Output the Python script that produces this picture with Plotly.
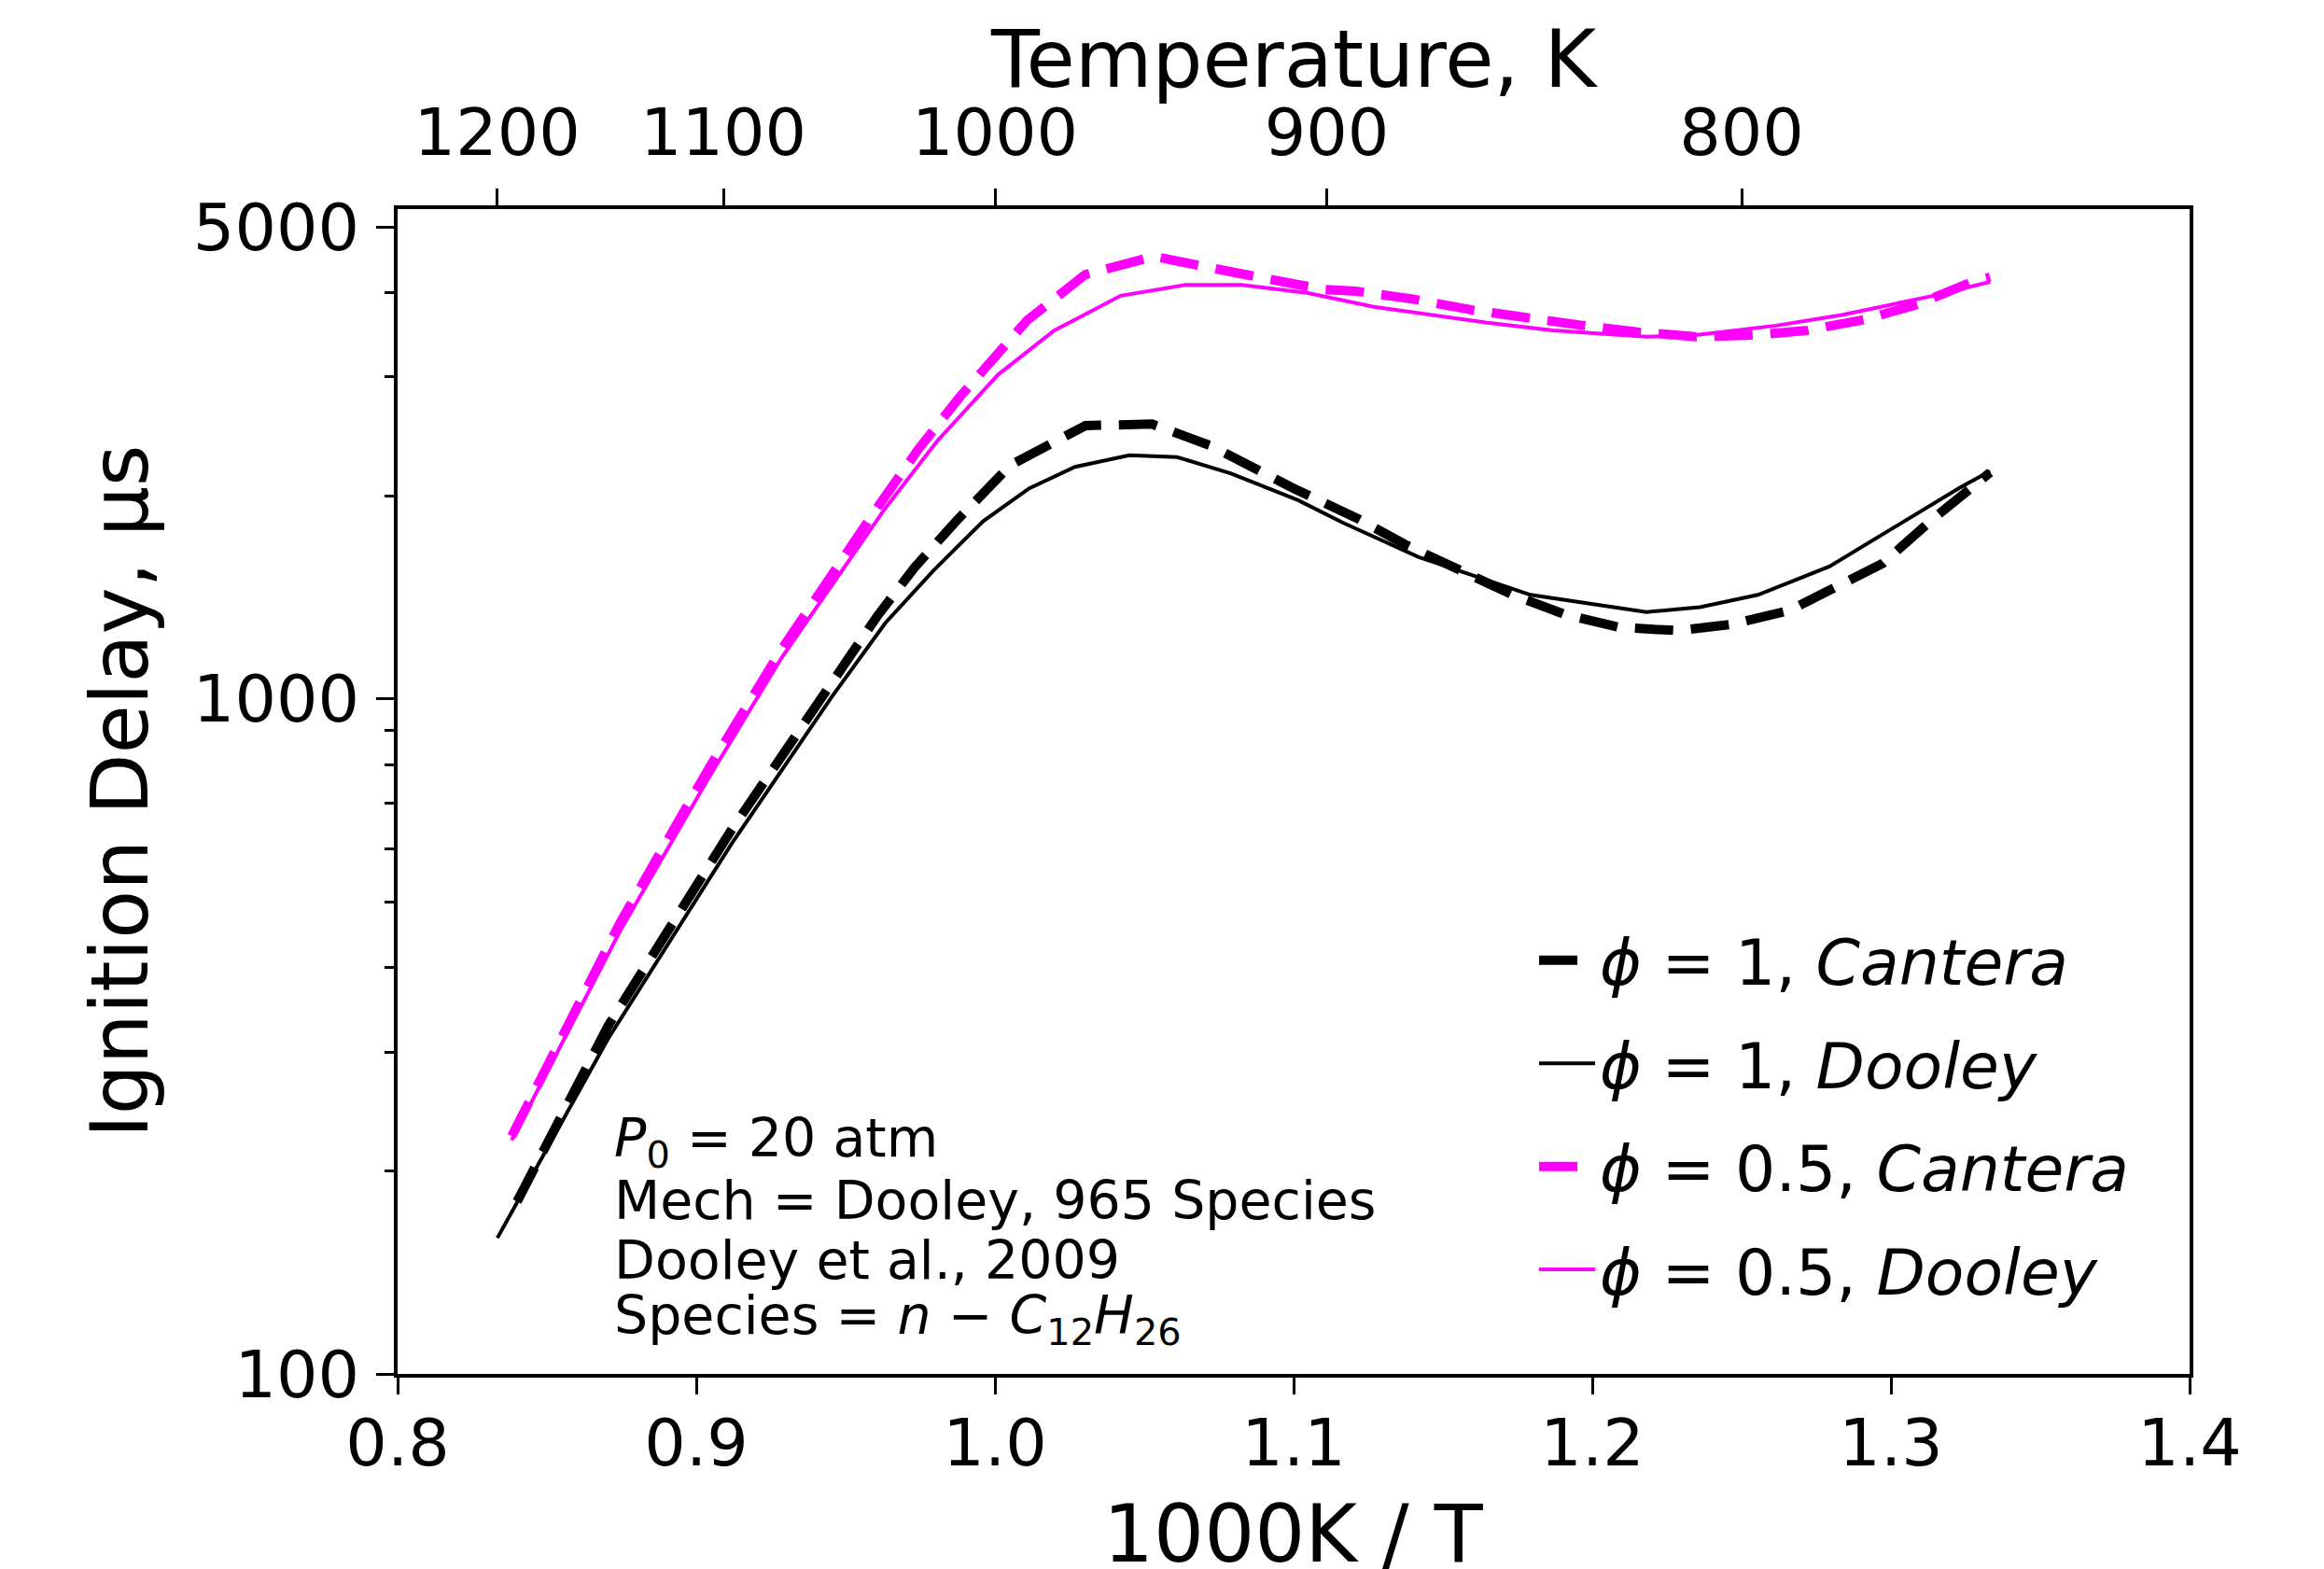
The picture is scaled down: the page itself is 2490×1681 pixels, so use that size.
import plotly.graph_objects as go

# ---- data (x = 1000K/T, y = ignition delay in microseconds) ----
phi1_cantera_x = [0.840, 0.8705, 0.9118, 0.9466, 0.9605, 0.9731, 0.9870, 1.0052, 1.0164, 1.0303,
                  1.0526, 1.0721, 1.1000, 1.1210, 1.1374, 1.1553, 1.1733, 1.1912, 1.2091, 1.2286,
                  1.2465, 1.2660, 1.2809, 1.2973, 1.3138, 1.3288, 1.3332]
phi1_cantera_y = [180, 328, 640, 1076, 1325, 1567, 1835, 2221, 2350, 2542,
                  2555, 2375, 2052, 1855, 1694, 1555, 1427, 1333, 1277, 1263,
                  1290, 1353, 1459, 1589, 1845, 2096, 2166]

phi1_dooley_x = [0.8334, 0.8705, 0.9118, 0.9452, 0.9633, 0.9794, 0.9961, 1.0115, 1.0268, 1.0450,
                 1.0610, 1.0791, 1.1015, 1.1165, 1.1419, 1.1793, 1.2181, 1.2361, 1.2555, 1.2794,
                 1.3228, 1.3332]
phi1_dooley_y = [159, 314, 610, 1005, 1296, 1550, 1835, 2052, 2208, 2297,
                 2283, 2158, 1971, 1825, 1623, 1427, 1346, 1368, 1427, 1572,
                 2053, 2177]

phi05_cantera_x = [0.8382, 0.8747, 0.9046, 0.9285, 0.9605, 0.9745, 0.9885, 1.0052, 1.0108, 1.0303,
                   1.0533, 1.0721, 1.0903, 1.1098, 1.1210, 1.1404, 1.1598, 1.1778, 1.1972, 1.2152,
                   1.2346, 1.2540, 1.2719, 1.2914, 1.3093, 1.3272, 1.3332]
phi05_cantera_y = [225, 468, 795, 1184, 1918, 2350, 2812, 3441, 3641, 4256,
                   4529, 4355, 4187, 4046, 4020, 3912, 3771, 3670, 3575, 3499,
                   3443, 3461, 3517, 3652, 3850, 4151, 4217]

phi05_dooley_x = [0.8382, 0.8747, 0.9046, 0.9285, 0.9633, 0.9808, 1.0010, 1.0198, 1.0421, 1.0638,
                  1.0826, 1.1045, 1.1269, 1.1643, 1.1868, 1.2181, 1.2346, 1.2615, 1.2839, 1.3138,
                  1.3332]
phi05_dooley_y = [222, 455, 770, 1150, 1918, 2415, 3023, 3516, 3959, 4109,
                  4109, 3998, 3812, 3613, 3517, 3443, 3461, 3575, 3710, 3956,
                  4151]

bottom_ticks = [0.8, 0.9, 1.0, 1.1, 1.2, 1.3, 1.4]
top_temps = [1200, 1100, 1000, 900, 800]
y_major = [100, 1000, 5000]
y_minor = [200, 300, 400, 500, 600, 700, 800, 900, 2000, 3000, 4000]

notes = ["<i>P</i><sub>0</sub> = 20 atm",
         "Mech = Dooley, 965 Species",
         "Dooley et al., 2009",
         "Species = <i>n</i> − <i>C</i><sub>12</sub><i>H</i><sub>26</sub>"]

FONT = "DejaVu Sans"
MAG = "#FF00FF"

fig = go.Figure()
series = [
    (phi1_cantera_x, phi1_cantera_y, "black", 10, "41px,19px", "<i>ϕ</i> = 1, <i>Cantera</i>"),
    (phi1_dooley_x, phi1_dooley_y, "black", 4, "solid", "<i>ϕ</i> = 1, <i>Dooley</i>"),
    (phi05_cantera_x, phi05_cantera_y, MAG, 10, "41px,19px", "<i>ϕ</i> = 0.5, <i>Cantera</i>"),
    (phi05_dooley_x, phi05_dooley_y, MAG, 4, "solid", "<i>ϕ</i> = 0.5, <i>Dooley</i>"),
]
for i, (xs, ys, c, w, d, name) in enumerate(series):
    fig.add_trace(go.Scatter(x=xs, y=ys, mode="lines", name=name, legendgroup=str(i),
                             line=dict(color=c, width=w, dash=d)))

# invisible trace on the top (temperature) axis so it renders
fig.add_trace(go.Scatter(x=phi1_dooley_x, y=phi1_dooley_y, xaxis="x2", mode="lines",
                         line=dict(width=0), opacity=0, showlegend=False, hoverinfo="skip"))

axis_common = dict(showline=True, linecolor="black", linewidth=4, ticks="outside",
                   tickcolor="black", tickwidth=3, showgrid=False, zeroline=False,
                   automargin=False,
                   tickfont=dict(family=FONT, size=70, color="black"))

# page body adds an 8px offset, so the figure is 8px smaller with 8px less left/top margin
fig.update_layout(
    width=2482, height=1673,
    margin=dict(l=418, r=144, t=216, b=209, pad=0),
    plot_bgcolor="white", paper_bgcolor="white",
    font=dict(family=FONT, color="black", size=70),
    xaxis=dict(range=[0.8, 1.4], tickvals=bottom_ticks,
               ticktext=[f"{v:.1f}" for v in bottom_ticks], ticklen=18,
               ticklabelstandoff=-8, **axis_common),
    xaxis2=dict(range=[0.8, 1.4], overlaying="x", side="top",
                tickvals=[1000.0 / t for t in top_temps], ticktext=[str(t) for t in top_temps],
                ticklen=18, ticklabelstandoff=8, **axis_common),
    yaxis=dict(type="log", range=[2, 3.726], tickvals=y_major, ticktext=[str(v) for v in y_major],
               ticklen=19, mirror=True, ticklabelstandoff=4,
               minor=dict(tickvals=y_minor, ticks="outside", ticklen=10, tickwidth=2.5,
                          tickcolor="black", showgrid=False),
               title=dict(text="Ignition Delay, μs", font=dict(family=FONT, size=85), standoff=21),
               **axis_common),
    legend=dict(x=0.6344, y=0.3957, xanchor="left", yanchor="top", bgcolor="rgba(0,0,0,0)",
                borderwidth=0, font=dict(family=FONT, size=68), tracegroupgap=19,
                itemwidth=60),
    showlegend=True,
)

# axis titles for the bottom (1000K/T) and top (temperature) axes
fig.add_annotation(x=0.5, xref="paper", y=1.129, yref="paper", text="Temperature, K",
                   showarrow=False, xanchor="center", yanchor="middle",
                   font=dict(family=FONT, size=85, color="black"))
fig.add_annotation(x=0.5, xref="paper", y=-0.1375, yref="paper", text="1000K / T",
                   showarrow=False, xanchor="center", yanchor="middle",
                   font=dict(family=FONT, size=85, color="black"))

ys_px = [1223, 1286, 1350, 1413]
for t, yp in zip(notes, ys_px):
    fig.add_annotation(x=0.872, xref="x", y=(1472 - yp) / 1248.4, yref="paper",
                       text=t, showarrow=False, xanchor="left", yanchor="middle",
                       font=dict(family=FONT, size=57, color="black"))

fig.write_html("out.html")
